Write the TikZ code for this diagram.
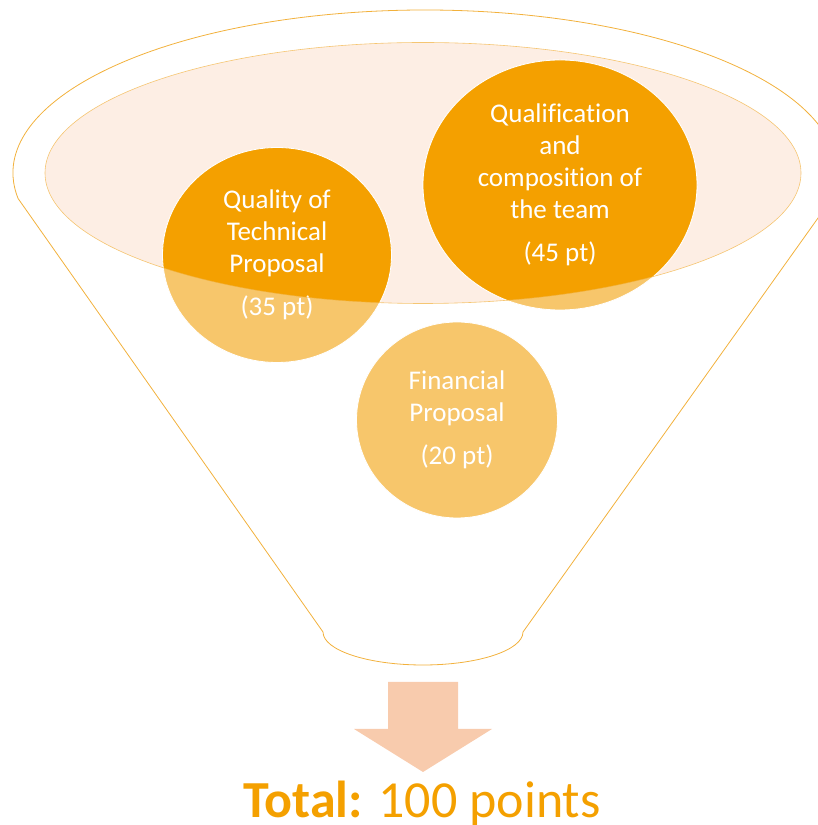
\documentclass[tikz,border=0pt]{standalone}
\usepackage{fontspec}
\setmainfont{Carlito}[Ligatures=NoCommon]
\usetikzlibrary{shapes.geometric}
\definecolor{funnelline}{HTML}{F2B13C}
\definecolor{rimfill}{HTML}{FDEEE4}
\definecolor{bubbledark}{HTML}{F4A000}
\definecolor{bubblelight}{HTML}{F7C66B}
\definecolor{arrowfill}{HTML}{F8CBAD}
\definecolor{totaltext}{HTML}{F4A000}
\begin{document}
\begin{tikzpicture}[x=1pt, y=1pt,
    bubble/.style={draw=white, line width=0.8pt, fill=bubblelight, ellipse, inner sep=0pt},
    bubbletext/.style={text=white, align=center, font=\fontsize{27}{32}\selectfont}]
  \useasboundingbox (0,0) rectangle (818,825);
  % rim of the funnel
  \node[ellipse, fill=rimfill, minimum width=756pt, minimum height=261pt, inner sep=0pt] (rim) at (423,652) {};
  \coordinate (mouth) at (425,652);
  % scoring criteria
  \foreach \name/\x/\y/\w/\h in {tech/277/570/229/215, qual/560/640/274/250, fin/457/405/201/196} {
    \node[bubble, minimum width=\w pt, minimum height=\h pt] (\name) at (\x,\y) {};
  }
  \begin{scope}
    \clip (rim.center) ellipse (378 and 130.5);
    \foreach \name/\rx/\ry in {tech/114.5/107.5, qual/137/125} {
      \filldraw[bubbledark, draw=white, line width=0.8pt] (\name.center) ellipse ({\rx} and {\ry});
    }
  \end{scope}
  \node[bubbletext] (techtext) at (tech.center) {Quality of\\Technical\\Proposal\\[11pt](35 pt)};
  \node[bubbletext] (qualtext) at (qual.center) {Qualification\\and\\composition of\\the team\\[11pt](45 pt)};
  \node[bubbletext] (fintext) at (fin.center) {Financial\\Proposal\\[11pt](20 pt)};
  % outlines
  \draw[funnelline, line width=0.6pt, opacity=0.7] (rim.center) ellipse (378 and 130.5);
  \draw[funnelline, line width=0.8pt] (mouth) ++(189:412 and 163)
    arc[start angle=189, end angle=-9, x radius=412, y radius=163]
    -- (523,193) arc[start angle=0, end angle=-180, x radius=100, y radius=33] -- cycle;
  % total
  \node[anchor=base, text=totaltext, font=\fontsize{52}{60}\selectfont] (total) at (422,8) {\textbf{Total:} 100 points};
  \fill[arrowfill] (388,143) -- (458,143) -- (458,96) -- (492,96) -- (423,53) -- (354,96) -- (388,96) -- cycle;
\end{tikzpicture}
\end{document}
